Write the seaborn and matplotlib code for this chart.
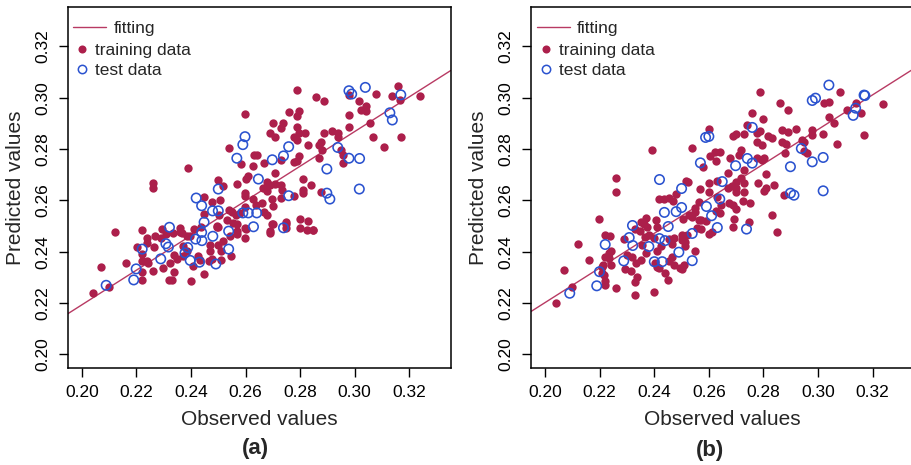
import seaborn as sns
import matplotlib.pyplot as plt
import matplotlib.lines as mlines

# panel (a) - training data (observed, predicted)
a_train_obs = [0.2787, 0.2859, 0.2889, 0.3078, 0.3157, 0.3138, 0.3166, 0.3239, 0.3017, 0.2979,
               0.3040, 0.3025, 0.3041, 0.2979, 0.3058, 0.2979, 0.2598, 0.2758, 0.2797, 0.2787,
               0.2699, 0.2739, 0.2729, 0.2787, 0.2690, 0.2797, 0.2818, 0.2778, 0.2787, 0.2889,
               0.2918, 0.2938, 0.2938, 0.3068, 0.3168, 0.2709, 0.2877, 0.2869, 0.2830, 0.3107,
               0.2540, 0.2951, 0.2958, 0.2880, 0.2631, 0.2641, 0.2797, 0.2787, 0.2778, 0.2730,
               0.2869, 0.2958, 0.2582, 0.2668, 0.2629, 0.2388, 0.2709, 0.2610, 0.2600, 0.2500,
               0.2568, 0.2809, 0.2677, 0.2690, 0.2708, 0.2259, 0.2259, 0.2519, 0.2730, 0.2839,
               0.2665, 0.2677, 0.2809, 0.2809, 0.2876, 0.2732, 0.2598, 0.2598, 0.2779, 0.2448,
               0.2629, 0.2698, 0.2730, 0.2507, 0.2477, 0.2659, 0.2699, 0.2638, 0.2540, 0.2551,
               0.2448, 0.2598, 0.2580, 0.2565, 0.2669, 0.2677, 0.2502, 0.2531, 0.2798, 0.2829,
               0.2748, 0.2698, 0.2848, 0.2598, 0.2555, 0.2570, 0.2494, 0.2120, 0.2221, 0.2240,
               0.2238, 0.2201, 0.2221, 0.2221, 0.2238, 0.2243, 0.2160, 0.2070, 0.2042, 0.2100,
               0.2220, 0.2220, 0.2260, 0.2299, 0.2291, 0.2308, 0.2333, 0.2360, 0.2360, 0.2385,
               0.2411, 0.2336, 0.2348, 0.2323, 0.2339, 0.2319, 0.2331, 0.2399, 0.2369, 0.2370,
               0.2385, 0.2366, 0.2406, 0.2427, 0.2433, 0.2449, 0.2466, 0.2478, 0.2470, 0.2468,
               0.2500, 0.2509, 0.2516, 0.2510, 0.2494, 0.2500, 0.2546, 0.2543, 0.2568, 0.2570,
               0.2598, 0.2601, 0.2690, 0.2688, 0.2699, 0.2748, 0.2748, 0.2800, 0.2826, 0.2848,
               0.2438, 0.2397, 0.2269, 0.2266, 0.2294]
a_train_pred = [0.3029, 0.3003, 0.2988, 0.3016, 0.3044, 0.3006, 0.2990, 0.3008, 0.2988, 0.3010,
                0.2967, 0.2952, 0.2949, 0.2932, 0.2903, 0.2887, 0.2936, 0.2945, 0.2949, 0.2928,
                0.2900, 0.2900, 0.2881, 0.2887, 0.2861, 0.2861, 0.2861, 0.2846, 0.2835, 0.2861,
                0.2870, 0.2861, 0.2848, 0.2846, 0.2846, 0.2848, 0.2829, 0.2816, 0.2817, 0.2807,
                0.2804, 0.2797, 0.2777, 0.2797, 0.2775, 0.2775, 0.2771, 0.2754, 0.2751, 0.2758,
                0.2763, 0.2745, 0.2740, 0.2745, 0.2732, 0.2727, 0.2706, 0.2693, 0.2684, 0.2678,
                0.2663, 0.2684, 0.2671, 0.2661, 0.2663, 0.2667, 0.2648, 0.2654, 0.2661, 0.2658,
                0.2647, 0.2635, 0.2641, 0.2628, 0.2631, 0.2639, 0.2628, 0.2616, 0.2616, 0.2613,
                0.2605, 0.2605, 0.2609, 0.2600, 0.2595, 0.2590, 0.2577, 0.2583, 0.2564, 0.2553,
                0.2547, 0.2574, 0.2551, 0.2541, 0.2553, 0.2541, 0.2544, 0.2525, 0.2529, 0.2521,
                0.2516, 0.2508, 0.2486, 0.2493, 0.2512, 0.2508, 0.2499, 0.2478, 0.2485, 0.2453,
                0.2434, 0.2417, 0.2391, 0.2362, 0.2365, 0.2356, 0.2355, 0.2342, 0.2239, 0.2261,
                0.2320, 0.2291, 0.2326, 0.2337, 0.2453, 0.2470, 0.2473, 0.2493, 0.2475, 0.2463,
                0.2489, 0.2388, 0.2372, 0.2356, 0.2322, 0.2291, 0.2289, 0.2286, 0.2382, 0.2423,
                0.2404, 0.2473, 0.2343, 0.2382, 0.2369, 0.2313, 0.2362, 0.2372, 0.2401, 0.2427,
                0.2425, 0.2401, 0.2440, 0.2366, 0.2498, 0.2496, 0.2382, 0.2462, 0.2479, 0.2470,
                0.2453, 0.2489, 0.2473, 0.2479, 0.2506, 0.2493, 0.2509, 0.2492, 0.2483, 0.2485,
                0.2498, 0.2462, 0.2460, 0.2418, 0.2488]

# panel (a) - test data
a_test_obs = [0.3039, 0.2979, 0.2989, 0.3169, 0.3129, 0.3138, 0.2598, 0.2590, 0.2758, 0.2938,
              0.2568, 0.2739, 0.2698, 0.2979, 0.3018, 0.2898, 0.2647, 0.2500, 0.2898, 0.2909,
              0.3017, 0.2758, 0.2419, 0.2439, 0.2479, 0.2500, 0.2590, 0.2610, 0.2641, 0.2448,
              0.2321, 0.2538, 0.2629, 0.2739, 0.2439, 0.2440, 0.2480, 0.2417, 0.2308, 0.2317,
              0.2221, 0.2388, 0.2378, 0.2538, 0.2289, 0.2397, 0.2431, 0.2491, 0.2199, 0.2190,
              0.2089]
a_test_pred = [0.3040, 0.3027, 0.3014, 0.3011, 0.2941, 0.2913, 0.2848, 0.2817, 0.2809, 0.2806,
               0.2764, 0.2773, 0.2758, 0.2764, 0.2763, 0.2722, 0.2683, 0.2644, 0.2628, 0.2605,
               0.2644, 0.2618, 0.2609, 0.2579, 0.2559, 0.2559, 0.2551, 0.2551, 0.2551, 0.2515,
               0.2495, 0.2480, 0.2497, 0.2493, 0.2475, 0.2443, 0.2460, 0.2449, 0.2431, 0.2418,
               0.2410, 0.2416, 0.2395, 0.2410, 0.2372, 0.2366, 0.2359, 0.2352, 0.2333, 0.2290,
               0.2269]

# panel (b) - training data
b_train_obs = [0.2788, 0.3079, 0.3239, 0.2859, 0.3022, 0.3040, 0.3138, 0.3108, 0.2890, 0.3158,
               0.2759, 0.3040, 0.2799, 0.3060, 0.2738, 0.2600, 0.2919, 0.2869, 0.2890, 0.2789,
               0.2777, 0.2979, 0.2979, 0.3020, 0.2728, 0.2689, 0.2701, 0.3169, 0.2816, 0.2830,
               0.2940, 0.2948, 0.2869, 0.2881, 0.2777, 0.2796, 0.3068, 0.2539, 0.2390, 0.2624,
               0.2640, 0.2719, 0.2948, 0.2961, 0.2879, 0.2606, 0.2679, 0.2710, 0.2777, 0.2793,
               0.2802, 0.2627, 0.2579, 0.2730, 0.2671, 0.2808, 0.2517, 0.2523, 0.2631, 0.2258,
               0.2719, 0.2701, 0.2600, 0.2728, 0.2780, 0.2838, 0.2671, 0.2686, 0.2701, 0.2569,
               0.2811, 0.2802, 0.2259, 0.2600, 0.2730, 0.2698, 0.2876, 0.2481, 0.2631, 0.2417,
               0.2435, 0.2453, 0.2726, 0.2750, 0.2468, 0.2563, 0.2673, 0.2689, 0.2645, 0.2551,
               0.2551, 0.2701, 0.2627, 0.2640, 0.2527, 0.2539, 0.2830, 0.2506, 0.2573, 0.2589,
               0.2370, 0.2692, 0.2199, 0.2407, 0.2747, 0.2563, 0.2350, 0.2364, 0.2411, 0.2689,
               0.2557, 0.2573, 0.2331, 0.2346, 0.2374, 0.2848, 0.2602, 0.2612, 0.2218, 0.2237,
               0.2502, 0.2521, 0.2365, 0.2380, 0.2474, 0.2400, 0.2288, 0.2453, 0.2502, 0.2514,
               0.2120, 0.2466, 0.2356, 0.2423, 0.2514, 0.2549, 0.2241, 0.2233, 0.2370, 0.2411,
               0.2221, 0.2233, 0.2466, 0.2301, 0.2319, 0.2160, 0.2350, 0.2334, 0.2453, 0.2404,
               0.2213, 0.2209, 0.2240, 0.2508, 0.2472, 0.2496, 0.2502, 0.2411, 0.2294, 0.2313,
               0.2419, 0.2068, 0.2209, 0.2215, 0.2439, 0.2337, 0.2450, 0.2329, 0.2221, 0.2221,
               0.2260, 0.2099, 0.2400, 0.2329, 0.2039]
b_train_pred = [0.3023, 0.3023, 0.2975, 0.2978, 0.2979, 0.2985, 0.2979, 0.2952, 0.2950, 0.2939,
                0.2939, 0.2923, 0.2917, 0.2900, 0.2894, 0.2878, 0.2876, 0.2874, 0.2867, 0.2871,
                0.2862, 0.2875, 0.2855, 0.2858, 0.2858, 0.2852, 0.2859, 0.2853, 0.2849, 0.2842,
                0.2836, 0.2827, 0.2827, 0.2819, 0.2826, 0.2816, 0.2818, 0.2803, 0.2796, 0.2787,
                0.2788, 0.2797, 0.2793, 0.2784, 0.2784, 0.2771, 0.2766, 0.2776, 0.2764, 0.2758,
                0.2764, 0.2755, 0.2728, 0.2718, 0.2707, 0.2702, 0.2676, 0.2670, 0.2676, 0.2686,
                0.2686, 0.2673, 0.2667, 0.2667, 0.2666, 0.2660, 0.2647, 0.2654, 0.2647, 0.2646,
                0.2647, 0.2638, 0.2632, 0.2634, 0.2631, 0.2631, 0.2619, 0.2624, 0.2612, 0.2605,
                0.2605, 0.2608, 0.2598, 0.2589, 0.2598, 0.2593, 0.2589, 0.2580, 0.2580, 0.2569,
                0.2554, 0.2567, 0.2559, 0.2550, 0.2543, 0.2534, 0.2541, 0.2528, 0.2524, 0.2520,
                0.2530, 0.2528, 0.2528, 0.2524, 0.2515, 0.2523, 0.2514, 0.2507, 0.2495, 0.2497,
                0.2493, 0.2490, 0.2488, 0.2482, 0.2498, 0.2478, 0.2469, 0.2475, 0.2464, 0.2462,
                0.2465, 0.2464, 0.2458, 0.2465, 0.2454, 0.2455, 0.2451, 0.2449, 0.2446, 0.2439,
                0.2429, 0.2429, 0.2426, 0.2423, 0.2423, 0.2402, 0.2404, 0.2394, 0.2394, 0.2404,
                0.2381, 0.2374, 0.2378, 0.2387, 0.2381, 0.2368, 0.2368, 0.2355, 0.2365, 0.2355,
                0.2348, 0.2342, 0.2350, 0.2348, 0.2348, 0.2338, 0.2333, 0.2342, 0.2332, 0.2326,
                0.2338, 0.2328, 0.2315, 0.2308, 0.2318, 0.2303, 0.2289, 0.2282, 0.2285, 0.2270,
                0.2257, 0.2261, 0.2243, 0.2233, 0.2200]

# panel (b) - test data
b_test_obs = [0.3040, 0.2979, 0.2991, 0.3169, 0.3172, 0.3129, 0.3138, 0.2759, 0.2588, 0.2600,
              0.2939, 0.3019, 0.2979, 0.2899, 0.2569, 0.2741, 0.2759, 0.2698, 0.2419, 0.2500,
              0.2649, 0.2899, 0.2912, 0.3019, 0.2640, 0.2591, 0.2480, 0.2500, 0.2437, 0.2610,
              0.2451, 0.2631, 0.2738, 0.2320, 0.2539, 0.2308, 0.2419, 0.2439, 0.2321, 0.2220,
              0.2380, 0.2490, 0.2288, 0.2400, 0.2429, 0.2539, 0.2199, 0.2189, 0.2090]
b_test_pred = [0.3049, 0.2989, 0.2998, 0.3010, 0.3008, 0.2931, 0.2959, 0.2884, 0.2845, 0.2849,
               0.2802, 0.2767, 0.2750, 0.2731, 0.2746, 0.2763, 0.2745, 0.2735, 0.2681, 0.2646,
               0.2673, 0.2628, 0.2620, 0.2637, 0.2605, 0.2576, 0.2556, 0.2572, 0.2553, 0.2540,
               0.2498, 0.2494, 0.2488, 0.2502, 0.2471, 0.2455, 0.2451, 0.2443, 0.2424, 0.2428,
               0.2420, 0.2398, 0.2364, 0.2361, 0.2361, 0.2365, 0.2322, 0.2267, 0.2238]

# fitted line: predicted = slope * observed + intercept
fit_slope = [0.675, 0.674]
fit_intercept = [0.0843, 0.0854]

ticks = [0.20, 0.22, 0.24, 0.26, 0.28, 0.30, 0.32]
tick_labels = ["0.20", "0.22", "0.24", "0.26", "0.28", "0.30", "0.32"]
panel_names = ["(a)", "(b)"]

red = "#AC1F4B"
line_red = "#B83A63"
blue = "#2A52CF"

sns.set_style("ticks")
plt.rcParams['font.family'] = ['Liberation Sans', 'DejaVu Sans']

fig = plt.figure(figsize=(9.11, 4.65), dpi=100)
ax_a = fig.add_axes([67.7 / 911, 97.3 / 465, 383 / 911, 360.4 / 465])
ax_b = fig.add_axes([531 / 911, 97.3 / 465, 383 / 911, 360.4 / 465])

panels = [
    (ax_a, a_train_obs, a_train_pred, a_test_obs, a_test_pred),
    (ax_b, b_train_obs, b_train_pred, b_test_obs, b_test_pred),
]

for i, (ax, tr_x, tr_y, te_x, te_y) in enumerate(panels):
    ax.axline((0.20, fit_slope[i] * 0.20 + fit_intercept[i]), slope=fit_slope[i],
              color=line_red, lw=1.0, zorder=1)
    sns.scatterplot(x=tr_x, y=tr_y, ax=ax, color=red, s=36, linewidth=0, zorder=2)
    sns.scatterplot(x=te_x, y=te_y, ax=ax, facecolor="none", edgecolor=blue,
                    s=46, linewidth=1.15, zorder=3)

    ax.set_xlim(0.1948, 0.3352)
    ax.set_ylim(0.1948, 0.3352)
    ax.set_xticks(ticks)
    ax.set_xticklabels(tick_labels)
    ax.set_yticks(ticks)
    ax.set_yticklabels(tick_labels, rotation=90, va="center")
    ax.tick_params(axis="both", direction="out", length=6.5, width=1.0,
                   labelsize=12.5, colors="black", pad=6)
    for sp in ax.spines.values():
        sp.set_visible(True)
        sp.set_linewidth(1.1)
        sp.set_color("black")

    ax.set_xlabel("Observed values", fontsize=15)
    ax.set_ylabel("Predicted values", fontsize=15)
    ax.xaxis.set_label_coords(0.5, -0.118)
    ax.yaxis.set_label_coords(-0.112, 0.5)

    # two legends: one for the line, one for the points (like the R figure)
    h_line = mlines.Line2D([], [], color=line_red, lw=1.0)
    leg1 = ax.legend([h_line], ["fitting"], loc="upper left", bbox_to_anchor=(0.015, 0.962),
                     frameon=False, fontsize=12.5, handlelength=1.9, handletextpad=0.4,
                     borderpad=0, borderaxespad=0)
    ax.add_artist(leg1)
    h_tr = mlines.Line2D([], [], color=red, marker="o", ls="none", markersize=5.8,
                         markeredgewidth=0)
    h_te = mlines.Line2D([], [], color=blue, marker="o", ls="none", markersize=6,
                         markerfacecolor="none", markeredgewidth=1.1)
    ax.legend([h_tr, h_te], ["training data", "test data"], loc="upper left",
              bbox_to_anchor=(0.02, 0.90), frameon=False, fontsize=12.5,
              handlelength=0.8, handletextpad=0.35, labelspacing=0.27,
              borderpad=0, borderaxespad=0)

fig.text(255 / 911, 1 - 448 / 465, panel_names[0], ha="center", va="center",
         fontsize=16, fontweight="bold")
fig.text(710 / 911, 1 - 450 / 465, panel_names[1], ha="center", va="center",
         fontsize=16, fontweight="bold")

fig.savefig("out.png", dpi=100)
